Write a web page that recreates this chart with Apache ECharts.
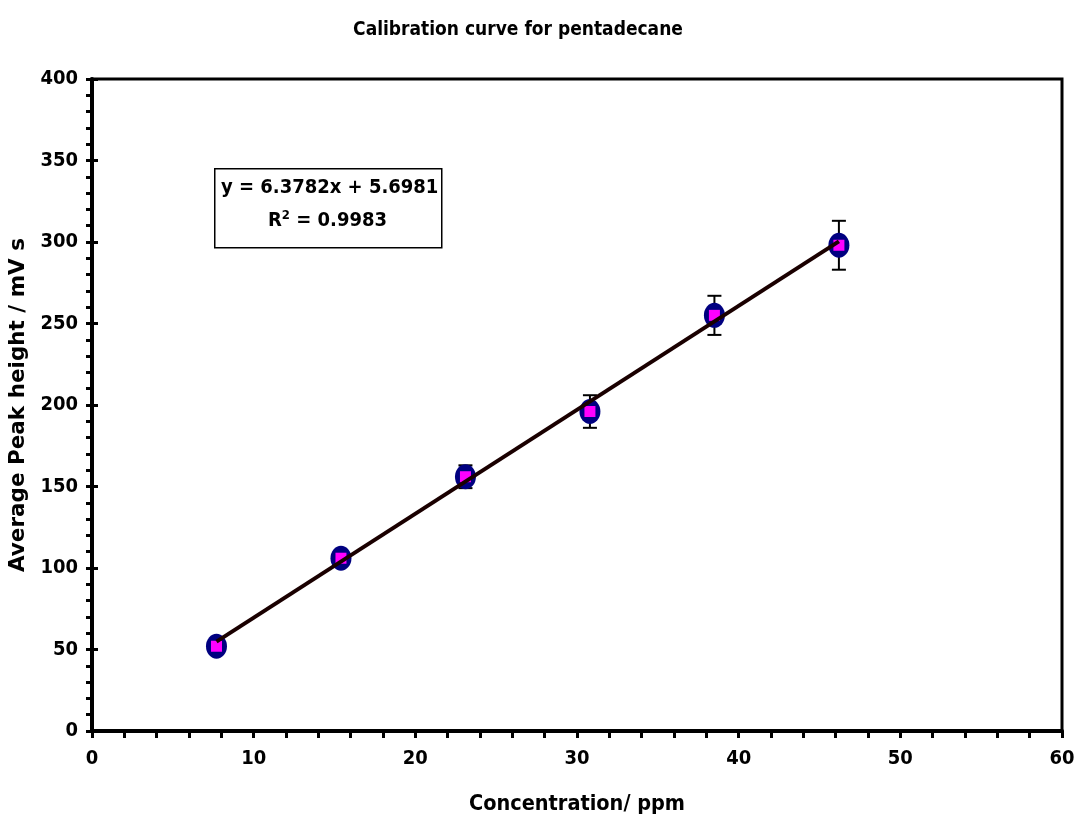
<!DOCTYPE html>
<html>
<head>
<meta charset="utf-8">
<script src="https://cdn.jsdelivr.net/npm/echarts@6/dist/echarts.min.js"></script>
<style>
  html, body { margin: 0; padding: 0; background: #fff; }
  #chart { width: 1078px; height: 818px; }
</style>
</head>
<body>
<div id="chart"></div>
<script>
// data
var concentration = [7.7, 15.4, 23.1, 30.8, 38.5, 46.2];
var peakHeight = [52, 106, 156, 196, 255, 298];
var errorSize = [2, 3, 7, 10, 12, 15];
var slope = 6.3782;
var intercept = 5.6981;
var equationText = 'y = 6.3782x + 5.6981';
var r2Text = 'R{sup|2} = 0.9983';

var pts = concentration.map(function (c, i) { return [c, peakHeight[i]]; });
var errData = concentration.map(function (c, i) {
  return [c, peakHeight[i] - errorSize[i], peakHeight[i] + errorSize[i]];
});
var x0 = concentration[0], x1 = concentration[concentration.length - 1];
var fitLine = [[x0, slope * x0 + intercept], [x1, slope * x1 + intercept]];

var font = '"DejaVu Sans Condensed", "DejaVu Sans", sans-serif';
var wideFont = '"DejaVu Sans", Verdana, sans-serif';

var chart = echarts.init(document.getElementById('chart'));
var option = {
  backgroundColor: '#fff',
  animation: false,
  title: {
    text: 'Calibration curve for pentadecane',
    left: 513, top: 16, textAlign: 'center',
    textStyle: { fontFamily: font, fontWeight: 'bold', fontSize: 19, color: '#000' }
  },
  grid: {
    left: 92, right: 16, top: 79, bottom: 87,
    outerBoundsMode: 'none', containLabel: false,
    show: true, borderColor: '#000', borderWidth: 3
  },
  xAxis: [{
    type: 'value', min: 0, max: 60, interval: 10,
    axisLine: { lineStyle: { color: '#000', width: 4 } },
    axisTick: { show: true, length: 7, lineStyle: { color: '#000', width: 3 } },
    minorTick: { show: true, splitNumber: 5, length: 7, lineStyle: { color: '#000', width: 3 } },
    splitLine: { show: false },
    axisLabel: { fontFamily: font, fontWeight: 'bold', fontSize: 20, color: '#000', margin: 18 },
    name: 'Concentration/ ppm', nameLocation: 'middle', nameGap: 62,
    nameTextStyle: { fontFamily: font, fontWeight: 'bold', fontSize: 21.5, color: '#000' }
  }],
  yAxis: [{
    type: 'value', min: 0, max: 400, interval: 50,
    axisLine: { lineStyle: { color: '#000', width: 4 } },
    axisTick: { show: true, length: 6, lineStyle: { color: '#000', width: 3 } },
    minorTick: { show: true, splitNumber: 5, length: 6, lineStyle: { color: '#000', width: 3 } },
    splitLine: { show: false },
    axisLabel: { fontFamily: font, fontWeight: 'bold', fontSize: 20, color: '#000', margin: 14 },
    name: 'Average Peak height / mV s', nameLocation: 'middle', nameGap: 59,
    nameTextStyle: { fontFamily: wideFont, fontWeight: 'bold', fontSize: 21.5, color: '#000' }
  }, {
    type: 'value', min: 0, max: 400, interval: 50, position: 'left',
    axisLine: { show: false },
    axisTick: { show: true, inside: true, length: 6, lineStyle: { color: '#000', width: 3 } },
    axisLabel: { show: false },
    splitLine: { show: false }
  }],
  graphic: [{
    type: 'rect', left: 214, top: 168,
    shape: { width: 227, height: 79 },
    style: { fill: '#fff', stroke: '#000', lineWidth: 1.5 },
    z: 5
  }, {
    type: 'text', left: 221, top: 178, z: 6,
    style: { text: equationText, font: 'bold 20px ' + font, fill: '#000' }
  }, {
    type: 'text', left: 268, top: 209, z: 6,
    style: {
      text: r2Text, font: 'bold 20px ' + font, fill: '#000',
      rich: { sup: { fontSize: 13, fontWeight: 'bold', fontFamily: font, verticalAlign: 'top', padding: [0, 0, 10, 0] } }
    }
  }],
  series: [{
    name: 'errors', type: 'custom', z: 3,
    data: errData,
    renderItem: function (params, api) {
      var top = api.coord([api.value(0), api.value(2)]);
      var bot = api.coord([api.value(0), api.value(1)]);
      var cap = 7;
      var st = { stroke: '#000', lineWidth: 2 };
      return {
        type: 'group',
        children: [
          { type: 'line', shape: { x1: top[0], y1: top[1], x2: bot[0], y2: bot[1] }, style: st },
          { type: 'line', shape: { x1: top[0] - cap, y1: top[1], x2: top[0] + cap, y2: top[1] }, style: st },
          { type: 'line', shape: { x1: bot[0] - cap, y1: bot[1], x2: bot[0] + cap, y2: bot[1] }, style: st }
        ]
      };
    }
  }, {
    name: 'outer', type: 'scatter', z: 4,
    symbol: 'circle', symbolSize: [21, 25],
    itemStyle: { color: '#000080', opacity: 1 },
    data: pts
  }, {
    name: 'inner', type: 'scatter', z: 5,
    symbol: 'rect', symbolSize: 11,
    itemStyle: { color: '#ff00ff', opacity: 1 },
    data: pts
  }, {
    name: 'fit', type: 'line', z: 6,
    symbol: 'none',
    lineStyle: { color: '#1a0000', width: 4 },
    data: fitLine
  }]
};
chart.setOption(option);
</script>
</body>
</html>
